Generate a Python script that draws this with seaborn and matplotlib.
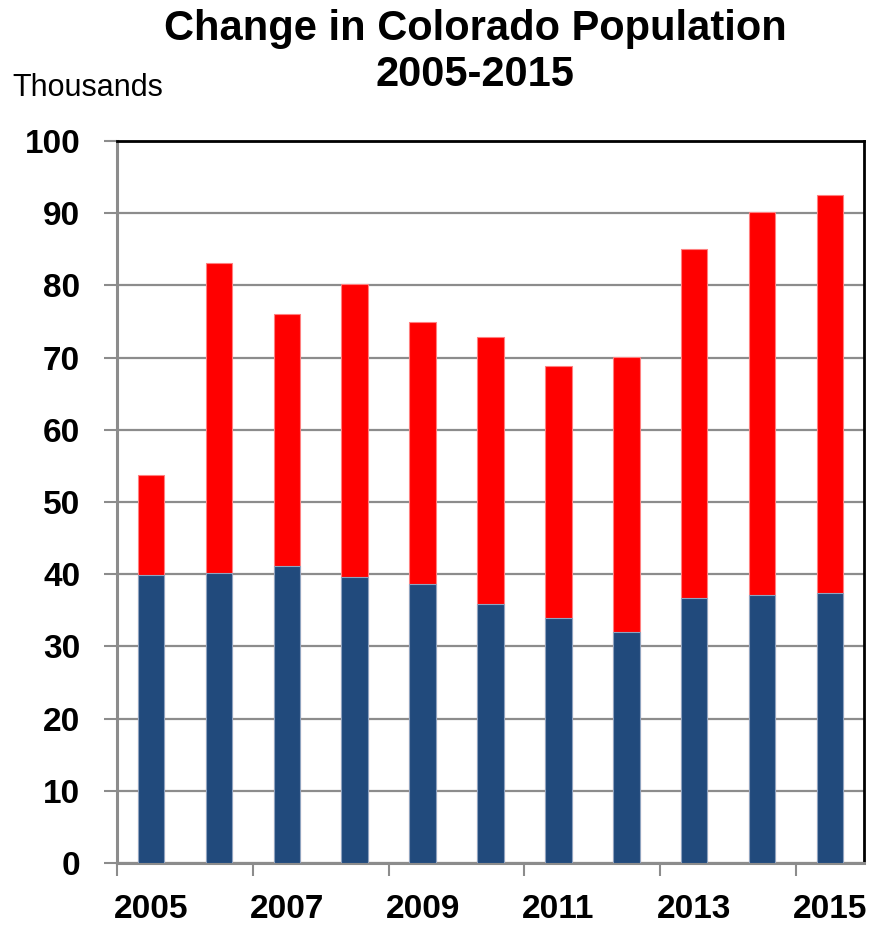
import matplotlib
matplotlib.use("Agg")
import matplotlib.pyplot as plt
import seaborn as sns
import pandas as pd
from matplotlib.ticker import FixedLocator

years = ["2005", "2006", "2007", "2008", "2009", "2010", "2011", "2012", "2013", "2014", "2015"]
natural_increase = [39.9, 40.2, 41.1, 39.6, 38.6, 35.9, 33.9, 32.0, 36.7, 37.1, 37.4]
total_change = [53.7, 83.1, 76.1, 80.2, 74.9, 72.9, 68.8, 70.1, 85.1, 90.1, 92.5]
xtick_labels = ["2005", "2007", "2009", "2011", "2013", "2015"]
ytick_values = [0, 10, 20, 30, 40, 50, 60, 70, 80, 90, 100]

sns.set_style("white")
narrow = ["Liberation Sans Narrow", "Liberation Sans", "DejaVu Sans"]
regular = ["Liberation Sans", "DejaVu Sans"]
plt.rcParams["font.family"] = regular
plt.rcParams["text.color"] = "black"
plt.rcParams["xtick.labelcolor"] = "black"
plt.rcParams["ytick.labelcolor"] = "black"

df = pd.DataFrame({"year": years, "natural": natural_increase, "total": total_change})

fig = plt.figure(figsize=(8.69, 9.26), dpi=100)
ax = fig.add_axes([117 / 869, 1 - 863 / 926, (864 - 117) / 869, (863 - 141) / 926])

sns.barplot(data=df, x="year", y="total", color="#FF0000", saturation=1, width=0.39,
            edgecolor="#FF8080", linewidth=0.8, ax=ax, zorder=3)
sns.barplot(data=df, x="year", y="natural", color="#214A7C", saturation=1, width=0.39,
            edgecolor="#8FA4C0", linewidth=0.8, ax=ax, zorder=4)

ax.set_xlim(-0.5, len(years) - 0.5)
ax.set_ylim(0, 100)
ax.set_xlabel("")
ax.set_ylabel("")

# gridlines
ax.yaxis.set_major_locator(FixedLocator(ytick_values))
ax.grid(axis="y", color="#8C8C8C", linewidth=1.6, zorder=0)
ax.grid(axis="x", visible=False)
ax.set_axisbelow(True)

ax.set_yticklabels([str(v) for v in ytick_values], fontfamily=narrow,
                   fontweight="bold", fontsize=24, color="black")
ax.tick_params(axis="y", which="major", direction="out", length=9.5, width=1.5,
               color="#8C8C8C", pad=17, left=True, labelcolor="black")

# x ticks: marks at every second category boundary, labels at bar centres
boundary_pos = [i - 0.5 for i in range(0, len(years), 2)]
label_pos = [i for i in range(0, len(years), 2)]
ax.xaxis.set_major_locator(FixedLocator(boundary_pos))
ax.set_xticklabels([""] * len(boundary_pos))
ax.tick_params(axis="x", which="major", direction="out", length=9, width=1.5,
               color="#8C8C8C", bottom=True)
ax.xaxis.set_minor_locator(FixedLocator(label_pos))
ax.set_xticks(label_pos, minor=True)
ax.set_xticklabels(xtick_labels, minor=True, fontfamily=narrow, fontweight="bold",
                   fontsize=24, color="black")
ax.tick_params(axis="x", which="minor", length=0, pad=22, labelcolor="black")

for side in ["left", "bottom"]:
    ax.spines[side].set_color("#8C8C8C")
    ax.spines[side].set_linewidth(2.2)
for side in ["top", "right"]:
    ax.spines[side].set_color("black")
    ax.spines[side].set_linewidth(2.0)
    ax.spines[side].set_visible(True)

fig.text(0.5466, 1 - 9 / 926, "Change in Colorado Population\n2005-2015", ha="center", va="top",
         fontsize=30, fontweight="bold", family=regular, linespacing=1.2, color="black")
fig.text(12 / 869, 1 - 88 / 926, "Thousands", ha="left", va="center",
         fontsize=22, family=narrow, color="black")

fig.savefig("out.png", dpi=100)
